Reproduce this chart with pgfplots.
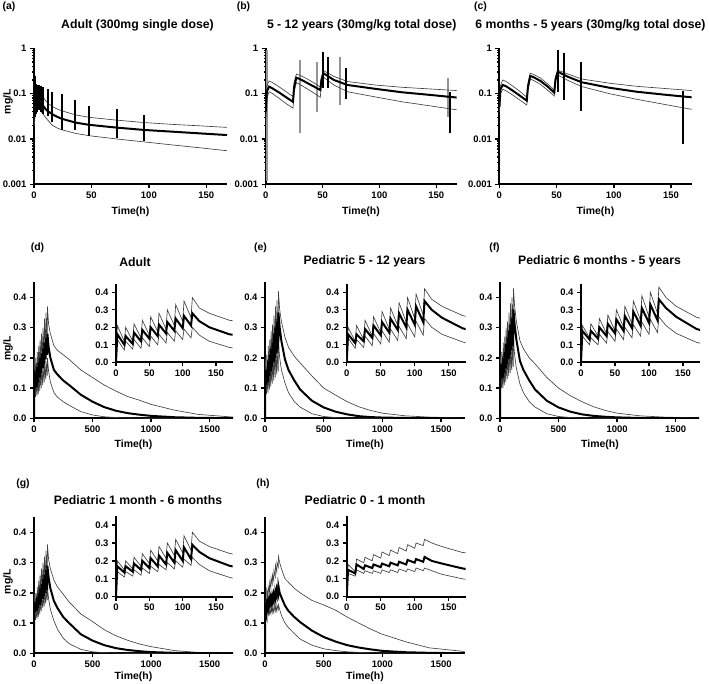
\documentclass[border=0pt]{standalone}
\usepackage{fontspec}
\setmainfont{Liberation Sans}
\usepackage{pgfplots}
\pgfplotsset{compat=1.18}
\usepackage{pgfplotstable}

\newcommand\tl{\fontsize{9.5}{10}\selectfont\bfseries}
\newcommand\ttl{\fontsize{12.3}{14}\selectfont\bfseries}
\newcommand\lbl{\fontsize{10.5}{12}\selectfont\bfseries}

% row 1: single / three-dose profiles (log scale)
\pgfplotstableread{
t lo med hi
0.25 0.02 0.035 0.06
1 0.032 0.05 0.09
2 0.04 0.06 0.11
3 0.045 0.068 0.12
4 0.047 0.072 0.12
5 0.045 0.07 0.115
6 0.041 0.065 0.105
8 0.035 0.054 0.085
10 0.03 0.046 0.07
12 0.026 0.041 0.062
16 0.020 0.035 0.052
20 0.0175 0.031 0.046
24 0.016 0.028 0.042
36 0.0133 0.023 0.034
48 0.0118 0.0205 0.030
72 0.010 0.0178 0.026
96 0.0086 0.0158 0.023
120 0.0074 0.0145 0.021
144 0.0064 0.0133 0.0195
168 0.0055 0.0122 0.018
}\tabA
\pgfplotstableread{
t lo med hi
0.1 0.025 0.04 0.06
1 0.08 0.11 0.15
3 0.11 0.143 0.19
6 0.10 0.13 0.175
12 0.078 0.105 0.14
18 0.06 0.083 0.11
24 0.048 0.066 0.086
25 0.11 0.14 0.18
27 0.175 0.225 0.27
30 0.16 0.21 0.255
36 0.13 0.175 0.215
42 0.105 0.145 0.175
48 0.083 0.12 0.14
49 0.16 0.20 0.24
51 0.23 0.28 0.32
54 0.20 0.25 0.29
60 0.155 0.20 0.24
72 0.11 0.155 0.185
96 0.085 0.128 0.155
120 0.066 0.107 0.138
144 0.054 0.094 0.127
168 0.044 0.082 0.117
}\tabB
\pgfplotstableread{
t lo med hi
0.1 0.04 0.05 0.06
1 0.10 0.125 0.15
3 0.125 0.155 0.20
6 0.115 0.145 0.185
12 0.092 0.115 0.145
18 0.072 0.09 0.112
24 0.056 0.07 0.083
25 0.12 0.14 0.17
27 0.21 0.245 0.28
30 0.195 0.23 0.265
36 0.16 0.19 0.22
42 0.12 0.145 0.165
48 0.089 0.105 0.12
49 0.18 0.20 0.23
51 0.26 0.305 0.33
54 0.235 0.28 0.31
60 0.195 0.235 0.27
72 0.143 0.178 0.21
96 0.10 0.135 0.17
120 0.075 0.11 0.145
144 0.058 0.095 0.13
168 0.045 0.083 0.117
}\tabC

% rows 2-3: multiple dosing, linear scale
\pgfplotstableread{
t lo med hi
0 0 0 0
2 0.13 0.16 0.21
12.5 0.07 0.10 0.12
14.5 0.12 0.15 0.20
25 0.075 0.105 0.12
27 0.13 0.17 0.22
37.5 0.08 0.12 0.14
39.5 0.14 0.185 0.24
50 0.09 0.135 0.155
52 0.15 0.20 0.26
62.5 0.10 0.15 0.175
64.5 0.16 0.215 0.28
75 0.11 0.165 0.19
77 0.17 0.23 0.30
87.5 0.12 0.18 0.21
89.5 0.18 0.25 0.33
100 0.13 0.195 0.235
102 0.19 0.265 0.35
112.5 0.14 0.21 0.255
114.5 0.20 0.28 0.37
125 0.155 0.235 0.31
140 0.12 0.20 0.28
170 0.085 0.16 0.24
200 0.07 0.145 0.225
250 0.055 0.125 0.21
300 0.043 0.11 0.195
400 0.022 0.078 0.16
500 0.011 0.055 0.135
600 0.005 0.037 0.11
700 0.0025 0.025 0.09
800 0.001 0.017 0.072
900 0.0005 0.012 0.06
1000 0.0002 0.008 0.046
1200 0 0.0035 0.027
1400 0 0.0015 0.013
1700 0 0.0004 0.004
}\tabD
\pgfplotstableread{
t lo med hi
0 0 0 0
2 0.14 0.16 0.20
12.5 0.08 0.11 0.12
14.5 0.13 0.16 0.21
25 0.085 0.12 0.13
27 0.15 0.19 0.24
37.5 0.095 0.14 0.15
39.5 0.165 0.21 0.26
50 0.105 0.155 0.17
52 0.18 0.23 0.29
62.5 0.115 0.17 0.19
64.5 0.19 0.25 0.31
75 0.125 0.185 0.21
77 0.205 0.28 0.34
87.5 0.135 0.20 0.23
89.5 0.22 0.30 0.37
100 0.145 0.215 0.25
102 0.235 0.32 0.39
112.5 0.155 0.23 0.27
114.5 0.25 0.35 0.42
125 0.20 0.30 0.36
140 0.16 0.255 0.32
170 0.117 0.195 0.268
200 0.085 0.16 0.235
250 0.055 0.125 0.205
300 0.037 0.095 0.183
400 0.015 0.058 0.14
500 0.006 0.036 0.10
600 0.0025 0.022 0.077
700 0.001 0.013 0.055
800 0.0004 0.007 0.038
900 0.0002 0.004 0.026
1000 0 0.0025 0.017
1200 0 0.001 0.008
1400 0 0.0003 0.004
1700 0 0 0.001
}\tabE
\pgfplotstableread{
t lo med hi
0 0 0 0
2 0.15 0.18 0.21
12.5 0.10 0.13 0.14
14.5 0.14 0.18 0.22
25 0.10 0.135 0.15
27 0.16 0.20 0.25
37.5 0.11 0.15 0.165
39.5 0.175 0.22 0.27
50 0.12 0.165 0.18
52 0.19 0.245 0.30
62.5 0.13 0.18 0.20
64.5 0.20 0.265 0.32
75 0.14 0.195 0.22
77 0.215 0.29 0.35
87.5 0.15 0.21 0.24
89.5 0.23 0.31 0.38
100 0.16 0.225 0.26
102 0.245 0.33 0.40
112.5 0.17 0.24 0.28
114.5 0.26 0.36 0.43
125 0.21 0.31 0.37
140 0.165 0.26 0.32
170 0.114 0.19 0.257
200 0.085 0.16 0.23
250 0.055 0.125 0.20
300 0.037 0.095 0.18
400 0.015 0.058 0.135
500 0.006 0.036 0.10
600 0.0025 0.022 0.075
700 0.001 0.013 0.055
800 0.0004 0.008 0.038
900 0.0002 0.005 0.026
1000 0 0.003 0.017
1200 0 0.001 0.008
1400 0 0.0003 0.004
1700 0 0 0.001
}\tabF
\pgfplotstableread{
t lo med hi
0 0 0 0
2 0.14 0.17 0.20
12.5 0.11 0.135 0.15
14.5 0.14 0.17 0.20
25 0.115 0.14 0.155
27 0.15 0.185 0.22
37.5 0.12 0.15 0.17
39.5 0.16 0.20 0.24
50 0.13 0.16 0.185
52 0.17 0.215 0.26
62.5 0.14 0.17 0.20
64.5 0.18 0.23 0.28
75 0.15 0.18 0.215
77 0.19 0.245 0.30
87.5 0.155 0.19 0.23
89.5 0.20 0.26 0.32
100 0.165 0.20 0.245
102 0.21 0.275 0.34
112.5 0.175 0.21 0.26
114.5 0.22 0.29 0.36
125 0.18 0.25 0.31
140 0.145 0.215 0.28
170 0.108 0.173 0.242
200 0.08 0.15 0.22
250 0.05 0.12 0.195
300 0.032 0.10 0.17
400 0.013 0.063 0.13
500 0.005 0.042 0.105
600 0.002 0.027 0.078
700 0.0008 0.017 0.058
800 0.0003 0.011 0.043
900 0.0001 0.007 0.031
1000 0 0.004 0.022
1200 0 0.0015 0.009
1400 0 0.0005 0.003
1700 0 0 0.001
}\tabG
\pgfplotstableread{
t lo med hi
0 0 0 0
2 0.13 0.15 0.18
12.5 0.115 0.13 0.14
14.5 0.15 0.18 0.21
25 0.13 0.155 0.19
27 0.145 0.175 0.22
37.5 0.13 0.16 0.20
39.5 0.145 0.18 0.235
50 0.13 0.165 0.215
52 0.15 0.185 0.25
62.5 0.135 0.17 0.23
64.5 0.15 0.19 0.26
75 0.135 0.175 0.24
77 0.155 0.195 0.275
87.5 0.14 0.18 0.255
89.5 0.155 0.205 0.29
100 0.14 0.19 0.27
102 0.16 0.21 0.30
112.5 0.145 0.195 0.285
114.5 0.16 0.222 0.32
125 0.145 0.20 0.30
140 0.125 0.185 0.28
170 0.10 0.158 0.247
200 0.085 0.14 0.235
250 0.065 0.12 0.215
300 0.047 0.103 0.20
400 0.027 0.075 0.175
500 0.015 0.054 0.16
600 0.009 0.039 0.143
700 0.005 0.027 0.12
800 0.003 0.019 0.10
900 0.0015 0.013 0.08
1000 0.001 0.008 0.063
1200 0.0003 0.0035 0.038
1400 0 0.0015 0.018
1700 0 0.0004 0.006
}\tabH

\pgfplotsset{
  gpaxis/.style={scale only axis, anchor=south west, enlargelimits=false,
    axis lines=left, axis line style={-, line width=2pt},
    tick align=outside, major tick length=4pt, minor tick length=2.2pt,
    every tick/.style={black, line width=1.4pt},
    tick label style={font=\tl}},
  logticks/.style={ymin=0.001, ymax=1,
    ytick={0.001,0.01,0.1,1}, yticklabels={0.001,0.01,0.1,1},
    minor ytick={0.002,0.003,0.004,0.005,0.006,0.007,0.008,0.009,0.02,0.03,0.04,0.05,0.06,0.07,0.08,0.09,0.2,0.3,0.4,0.5,0.6,0.7,0.8,0.9},
    xmin=0, xmax=168, xtick={0,50,100,150}, xticklabels={0,50,100,150}},
  linticks/.style={ymin=0, ymax=0.45, ytick={0,0.1,0.2,0.3,0.4},
    yticklabels={0.0,0.1,0.2,0.3,0.4}},
  mainxax/.style={xmin=0, xmax=1700, xtick={0,500,1000,1500},
    xticklabels={0,500,1000,1500}},
  insxax/.style={xmin=0, xmax=175, xtick={0,50,100,150},
    xticklabels={0,50,100,150}},
  thinline/.style={black!75, line width=0.65pt},
  medline/.style={black, line width=2pt},
  obsbar/.style={black, line width=2pt},
  obsgbar/.style={black!42, line width=2pt},
}

\begin{document}
\begin{tikzpicture}
\useasboundingbox (0bp,0bp) rectangle (709bp,684bp);

% (a)
\begin{axis}[gpaxis, ymode=log, logticks, at={(34bp,499.7bp)}, width=193bp, height=136bp]
\addplot[thinline] table[x=t,y=hi]{\tabA};
\addplot[thinline] table[x=t,y=lo]{\tabA};
\addplot[medline] table[x=t,y=med]{\tabA};
\addplot[obsbar] coordinates {(1,0.24) (1,0.03)};
\addplot[obsbar] coordinates {(2,0.16) (2,0.035)};
\addplot[obsbar] coordinates {(3,0.155) (3,0.04)};
\addplot[obsbar] coordinates {(4,0.155) (4,0.043)};
\addplot[obsbar] coordinates {(6,0.15) (6,0.04)};
\addplot[obsbar] coordinates {(8,0.142) (8,0.036)};
\addplot[obsbar] coordinates {(12,0.125) (12,0.032)};
\addplot[obsbar] coordinates {(16,0.11) (16,0.024)};
\addplot[obsbar] coordinates {(24,0.10) (24,0.016)};
\addplot[obsbar] coordinates {(36,0.073) (36,0.016)};
\addplot[obsbar] coordinates {(48,0.053) (48,0.0115)};
\addplot[obsbar] coordinates {(72,0.045) (72,0.0107)};
\addplot[obsbar] coordinates {(96,0.034) (96,0.0088)};
\end{axis}

% (b)
\begin{axis}[gpaxis, ymode=log, logticks, at={(265.7bp,499.7bp)}, width=191bp, height=136bp]
\addplot[obsgbar] coordinates {(1,0.9) (1,0.0012)};
\addplot[obsgbar] coordinates {(30,0.55) (30,0.0135)};
\addplot[obsgbar] coordinates {(45,0.5) (45,0.04)};
\addplot[obsgbar] coordinates {(65,0.63) (65,0.056)};
\addplot[obsgbar] coordinates {(160,0.22) (160,0.03)};
\addplot[thinline] table[x=t,y=hi]{\tabB};
\addplot[thinline] table[x=t,y=lo]{\tabB};
\addplot[medline] table[x=t,y=med]{\tabB};
\addplot[obsbar] coordinates {(50.5,0.82) (50.5,0.13)};
\addplot[obsbar] coordinates {(55,0.65) (55,0.135)};
\addplot[obsbar] coordinates {(71,0.36) (71,0.075)};
\addplot[obsbar] coordinates {(162,0.11) (162,0.0134)};
\end{axis}

% (c)
\begin{axis}[gpaxis, ymode=log, logticks, at={(499.3bp,499.7bp)}, width=192.4bp, height=136bp]
\addplot[thinline] table[x=t,y=hi]{\tabC};
\addplot[thinline] table[x=t,y=lo]{\tabC};
\addplot[medline] table[x=t,y=med]{\tabC};
\addplot[obsbar] coordinates {(51.5,0.92) (51.5,0.11)};
\addplot[obsbar] coordinates {(56.2,0.78) (56.2,0.072)};
\addplot[obsbar] coordinates {(71.4,0.49) (71.4,0.042)};
\addplot[obsbar] coordinates {(160.7,0.116) (160.7,0.0076)};
\end{axis}

% (d)
\begin{axis}[gpaxis, linticks, mainxax, at={(34bp,265.7bp)}, width=199bp, height=136bp]
\addplot[thinline] table[x=t,y=hi]{\tabD};
\addplot[thinline] table[x=t,y=lo]{\tabD};
\addplot[medline] table[x=t,y=med]{\tabD};
\end{axis}
\begin{axis}[gpaxis, linticks, insxax, at={(116bp,321.7bp)}, width=116.7bp, height=78.75bp]
\addplot[thinline] table[x=t,y=hi]{\tabD};
\addplot[thinline] table[x=t,y=lo]{\tabD};
\addplot[medline] table[x=t,y=med]{\tabD};
\end{axis}

% (e)
\begin{axis}[gpaxis, linticks, mainxax, at={(265bp,265.7bp)}, width=199.5bp, height=136bp]
\addplot[thinline] table[x=t,y=hi]{\tabE};
\addplot[thinline] table[x=t,y=lo]{\tabE};
\addplot[medline] table[x=t,y=med]{\tabE};
\end{axis}
\begin{axis}[gpaxis, linticks, insxax, at={(346.7bp,321.7bp)}, width=119bp, height=78.75bp]
\addplot[thinline] table[x=t,y=hi]{\tabE};
\addplot[thinline] table[x=t,y=lo]{\tabE};
\addplot[medline] table[x=t,y=med]{\tabE};
\end{axis}

% (f)
\begin{axis}[gpaxis, linticks, mainxax, at={(500bp,265.7bp)}, width=199bp, height=136bp]
\addplot[thinline] table[x=t,y=hi]{\tabF};
\addplot[thinline] table[x=t,y=lo]{\tabF};
\addplot[medline] table[x=t,y=med]{\tabF};
\end{axis}
\begin{axis}[gpaxis, linticks, insxax, at={(581bp,321.7bp)}, width=119bp, height=78.75bp]
\addplot[thinline] table[x=t,y=hi]{\tabF};
\addplot[thinline] table[x=t,y=lo]{\tabF};
\addplot[medline] table[x=t,y=med]{\tabF};
\end{axis}

% (g)
\begin{axis}[gpaxis, linticks, mainxax, at={(34bp,30.7bp)}, width=199bp, height=136bp]
\addplot[thinline] table[x=t,y=hi]{\tabG};
\addplot[thinline] table[x=t,y=lo]{\tabG};
\addplot[medline] table[x=t,y=med]{\tabG};
\end{axis}
\begin{axis}[gpaxis, linticks, insxax, at={(116bp,87.3bp)}, width=116.7bp, height=80.6bp]
\addplot[thinline] table[x=t,y=hi]{\tabG};
\addplot[thinline] table[x=t,y=lo]{\tabG};
\addplot[medline] table[x=t,y=med]{\tabG};
\end{axis}

% (h)
\begin{axis}[gpaxis, linticks, mainxax, at={(265bp,30.7bp)}, width=199.5bp, height=136bp]
\addplot[thinline] table[x=t,y=hi]{\tabH};
\addplot[thinline] table[x=t,y=lo]{\tabH};
\addplot[medline] table[x=t,y=med]{\tabH};
\end{axis}
\begin{axis}[gpaxis, linticks, insxax, at={(346.7bp,87.3bp)}, width=119bp, height=80.6bp]
\addplot[thinline] table[x=t,y=hi]{\tabH};
\addplot[thinline] table[x=t,y=lo]{\tabH};
\addplot[medline] table[x=t,y=med]{\tabH};
\end{axis}

% panel letters and titles
\node[font=\lbl] at (9bp,677bp) {(a)};
\node[font=\lbl] at (243.5bp,677bp) {(b)};
\node[font=\lbl] at (480.5bp,677bp) {(c)};
\node[font=\lbl] at (37.5bp,435.7bp) {(d)};
\node[font=\lbl] at (260.5bp,435.7bp) {(e)};
\node[font=\lbl] at (494.5bp,435.7bp) {(f)};
\node[font=\lbl] at (23bp,200bp) {(g)};
\node[font=\lbl] at (263bp,200bp) {(h)};

\node[font=\ttl] at (137.5bp,659bp) {Adult (300mg single dose)};
\node[font=\ttl] at (361.7bp,659bp) {5 - 12 years (30mg/kg total dose)};
\node[font=\ttl] at (590.5bp,659bp) {6 months - 5 years (30mg/kg total dose)};
\node[font=\ttl] at (135bp,422.3bp) {Adult};
\node[font=\ttl] at (364.5bp,422.3bp) {Pediatric 5 - 12 years};
\node[font=\ttl] at (599.5bp,422.3bp) {Pediatric 6 months - 5 years};
\node[font=\ttl] at (138bp,184bp) {Pediatric 1 month - 6 months};
\node[font=\ttl] at (365bp,184bp) {Pediatric 0 - 1 month};

% axis labels
\node[font=\lbl, rotate=90] at (8bp,582.3bp) {mg/L};
\node[font=\lbl, rotate=90] at (8bp,335.7bp) {mg/L};
\node[font=\lbl, rotate=90] at (8bp,102.3bp) {mg/L};
\node[font=\lbl] at (130.5bp,472.3bp) {Time(h)};
\node[font=\lbl] at (361bp,472.3bp) {Time(h)};
\node[font=\lbl] at (595.5bp,472.3bp) {Time(h)};
\node[font=\lbl] at (133.5bp,239bp) {Time(h)};
\node[font=\lbl] at (365bp,239bp) {Time(h)};
\node[font=\lbl] at (600bp,239bp) {Time(h)};
\node[font=\lbl] at (133.5bp,7.3bp) {Time(h)};
\node[font=\lbl] at (365bp,7.3bp) {Time(h)};
\end{tikzpicture}
\end{document}
